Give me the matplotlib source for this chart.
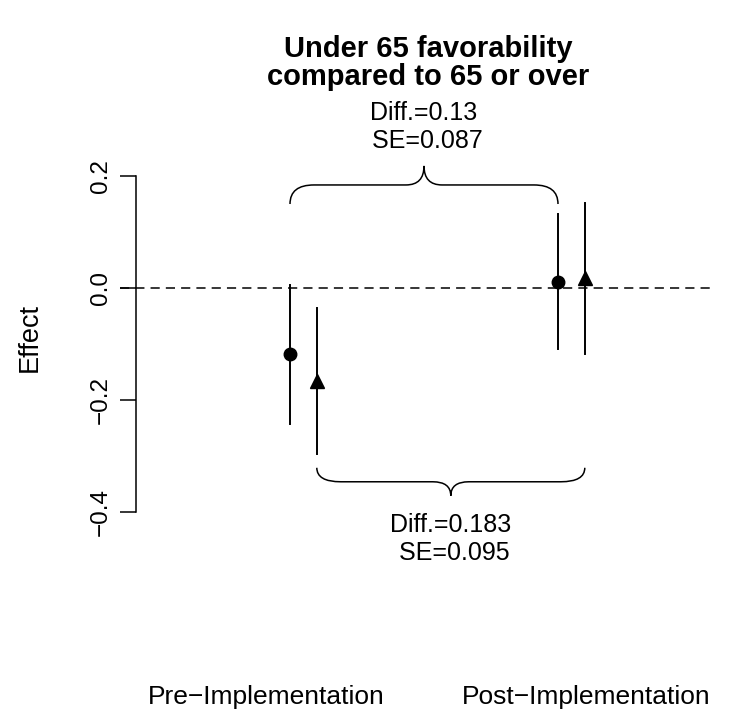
import matplotlib
matplotlib.use("Agg")
import matplotlib.pyplot as plt
from matplotlib.path import Path
from matplotlib.patches import PathPatch

plt.rcParams["font.family"] = ["Liberation Sans", "DejaVu Sans"]

# data
groups = ["Pre\u2212Implementation", "Post\u2212Implementation"]
est_circle = [-0.118, 0.011]
lo_circle = [-0.242, -0.109]
hi_circle = [0.006, 0.133]
est_tri = [-0.166, 0.018]
lo_tri = [-0.296, -0.118]
hi_tri = [-0.036, 0.152]
diff_labels = ["Diff.=0.13\n SE=0.087", "Diff.=0.183\n SE=0.095"]
yticks = [-0.4, -0.2, 0.0, 0.2]

# layout
x_pos = [1.0, 2.0]
offset = 0.1
px_x = 268.0   # pixels per x unit
px_y = 560.0   # pixels per y unit

fig = plt.figure(figsize=(7.5, 7.1), dpi=100)
ax = fig.add_axes([120 / 750, 110 / 710, 595 / 750, 500 / 710])
ax.set_xlim(1 - 170 / px_x, 2 + 157 / px_x)
ax.set_ylim(-0.5571, 0.3357)

ax.axhline(0, color="black", lw=1.1, ls=(0, (6, 4)), zorder=1)

for i, x in enumerate(x_pos):
    ax.plot([x, x], [lo_circle[i], hi_circle[i]], color="black", lw=1.4)
    ax.plot(x, est_circle[i], "o", color="black", ms=9)
    xt = x + offset
    ax.plot([xt, xt], [lo_tri[i], hi_tri[i]], color="black", lw=1.4)
    ax.plot(xt, est_tri[i], "^", color="black", ms=9.5)


def brace(x0, x1, y_end, y_flat, y_tip):
    rx = 24 / px_x
    rt = 18 / px_x
    xm = (x0 + x1) / 2
    verts = [
        (x0, y_end), (x0, y_flat), (x0 + rx, y_flat),
        (xm - rt, y_flat),
        (xm, y_flat), (xm, y_tip),
        (xm, y_flat), (xm + rt, y_flat),
        (x1 - rx, y_flat),
        (x1, y_flat), (x1, y_end),
    ]
    codes = [Path.MOVETO, Path.CURVE3, Path.CURVE3, Path.LINETO,
             Path.CURVE3, Path.CURVE3, Path.CURVE3, Path.CURVE3,
             Path.LINETO, Path.CURVE3, Path.CURVE3]
    ax.add_patch(PathPatch(Path(verts, codes), fill=False, lw=1.1,
                           edgecolor="black", clip_on=False))
    return xm


# top brace joins the circles, bottom brace joins the triangles
xm = brace(x_pos[0], x_pos[1], 0.150, 0.184, 0.218)
ax.text(xm, 0.287, diff_labels[0], ha="center", va="center", fontsize=18,
        linespacing=1.2)
xm = brace(x_pos[0] + offset, x_pos[1] + offset, -0.321, -0.346, -0.371)
ax.text(xm, -0.448, diff_labels[1], ha="center", va="center", fontsize=18,
        linespacing=1.2)

for spine in ["top", "right", "bottom"]:
    ax.spines[spine].set_visible(False)
ax.spines["left"].set_position(("data", 1 - 154 / px_x))
ax.spines["left"].set_bounds(-0.4, 0.2)
ax.spines["left"].set_linewidth(1.1)
ax.set_yticks(yticks)
ax.set_yticklabels([f"{v:.1f}".replace("-", "\u2212") for v in yticks],
                   rotation=90, va="center", fontsize=17.5)
ax.tick_params(axis="y", length=11.5, width=1.1, pad=6)
ax.set_xticks([])

ax.text(1 - 24 / px_x, -0.730, groups[0], ha="center", va="center", fontsize=19)
ax.text(2 + 28 / px_x, -0.730, groups[1], ha="center", va="center", fontsize=19)

fig.text(30 / 750, 1 - 337 / 710, "Effect", rotation=90, ha="center",
         va="center", fontsize=19.5)
fig.text(428 / 750, 1 - 63 / 710, "Under 65 favorability\ncompared to 65 or over",
         ha="center", va="center", fontsize=21, fontweight="bold",
         linespacing=1.02)

fig.savefig("out.png", dpi=100)
